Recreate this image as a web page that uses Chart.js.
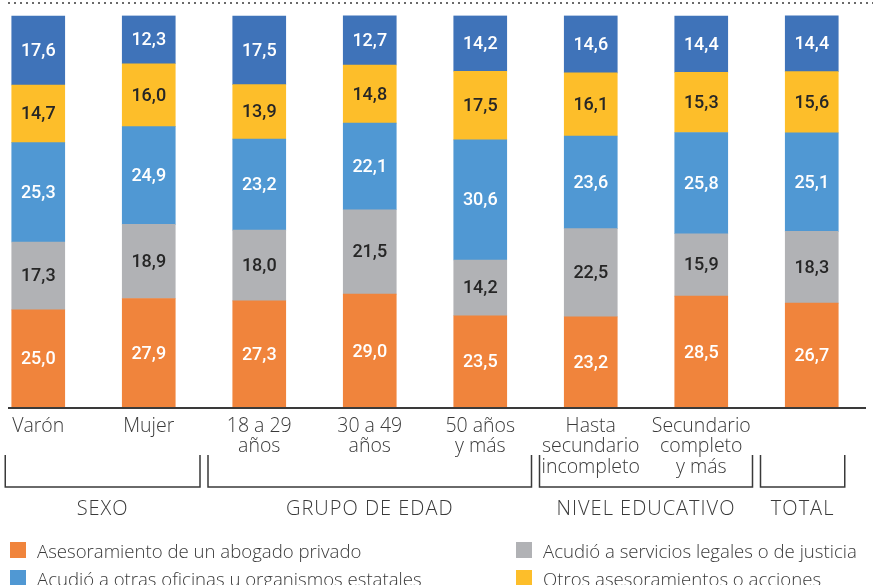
<!DOCTYPE html>
<html lang="es">
<head>
<meta charset="utf-8">
<script src="https://cdn.jsdelivr.net/npm/chart.js@4.4.0/dist/chart.umd.min.js"></script>
<style>
    html, body { margin: 0; padding: 0; background: #fff; overflow: hidden; }
    .wrap { position: relative; width: 873px; height: 585px; overflow: hidden; }
    /* canvas is a bit wider than the page and shifted left so the first bar sits near the edge */
    #accionesChart { position: absolute; left: -17px; top: 0; }
    .legend {
        position: absolute; left: 10px; top: 542px;
        display: grid; grid-template-columns: 506px auto; row-gap: 12px;
        font-family: "Open Sans", sans-serif; font-weight: 300; font-size: 18.6px; color: #3a3a3a;
    }
    .legend-item { display: flex; align-items: center; height: 16px; white-space: nowrap; }
    .legend-box { width: 16px; height: 16px; margin-right: 11px; flex: none; }
</style>
</head>
<body>
<div class="wrap">
    <canvas id="accionesChart" width="890" height="585"></canvas>
    <div class="legend" id="legend"></div>
</div>
<script>
// Categories (tick labels, multi-line)
const categories = [
    ['Varón'], ['Mujer'], ['18 a 29', 'años'], ['30 a 49', 'años'], ['50 años', 'y más'],
    ['Hasta', 'secundario', 'incompleto'], ['Secundario', 'completo', 'y más'], ['']
];

// Groups below the axis
const groupLabels = ['SEXO', 'GRUPO DE EDAD', 'NIVEL EDUCATIVO', 'TOTAL'];
const groupSizes = [2, 3, 2, 1];

// Series values (%)
const abogadoPrivado = [25.0, 27.9, 27.3, 29.0, 23.5, 23.2, 28.5, 26.7];
const serviciosLegales = [17.3, 18.9, 18.0, 21.5, 14.2, 22.5, 15.9, 18.3];
const otrasOficinas = [25.3, 24.9, 23.2, 22.1, 30.6, 23.6, 25.8, 25.1];
const otrosAsesoramientos = [14.7, 16.0, 13.9, 14.8, 17.5, 16.1, 15.3, 15.6];
const restoSuperior = [17.6, 12.3, 17.5, 12.7, 14.2, 14.6, 14.4, 14.4];

const TEXT_DARK = '#262626';
const SHIFT = 17; // canvas offset against the page

/**
 * Value labels inside each segment
 */
const segmentLabels = {
    id: 'segmentLabels',
    afterDatasetsDraw(chart) {
        const ctx = chart.ctx;
        ctx.save();
        ctx.font = '500 18px Roboto, sans-serif';
        ctx.textAlign = 'center';
        ctx.textBaseline = 'middle';
        chart.data.datasets.forEach((ds, i) => {
            const meta = chart.getDatasetMeta(i);
            meta.data.forEach((bar, j) => {
                const v = ds.data[j];
                ctx.fillStyle = ds.labelColor;
                ctx.fillText(v.toFixed(1).replace('.', ','), bar.x, (bar.y + bar.base) / 2 + 1);
            });
        });
        ctx.restore();
    }
};

/**
 * Axis line, top dotted rule, group brackets and titles
 */
const decorations = {
    id: 'decorations',
    afterDraw(chart) {
        const ctx = chart.ctx;
        const x = chart.scales.x;
        const area = chart.chartArea;
        ctx.save();

        // dotted rule on top
        ctx.strokeStyle = '#6a6a6a';
        ctx.lineWidth = 2;
        ctx.setLineDash([2, 4]);
        ctx.beginPath();
        ctx.moveTo(8 + SHIFT, 3);
        ctx.lineTo(873 + SHIFT, 3);
        ctx.stroke();
        ctx.setLineDash([]);

        // base axis line
        ctx.strokeStyle = '#3a3a3a';
        ctx.lineWidth = 2;
        ctx.beginPath();
        ctx.moveTo(8 + SHIFT, area.bottom);
        ctx.lineTo(866 + SHIFT, area.bottom);
        ctx.stroke();

        // brackets
        const last = categories.length - 1;
        const top = 455, bottom = 487;
        let start = 0;
        ctx.lineWidth = 1.5;
        ctx.strokeStyle = '#3a3a3a';
        ctx.fillStyle = '#3a3a3a';
        ctx.font = '300 20px "Open Sans", sans-serif';
        ctx.letterSpacing = '1px';
        ctx.textAlign = 'center';
        ctx.textBaseline = 'middle';
        groupSizes.forEach((size, g) => {
            const end = start + size - 1;
            const left = start === 0 ? x.getPixelForValue(0) - 33
                : (x.getPixelForValue(start - 1) + x.getPixelForValue(start)) / 2 + 4;
            const right = end === last ? x.getPixelForValue(last) + 33
                : (x.getPixelForValue(end) + x.getPixelForValue(end + 1)) / 2 - 4;
            ctx.beginPath();
            ctx.moveTo(left, top);
            ctx.lineTo(left, bottom);
            ctx.lineTo(right, bottom);
            ctx.lineTo(right, top);
            ctx.stroke();
            ctx.fillText(groupLabels[g], (left + right) / 2, 509);
            start = end + 1;
        });
        ctx.restore();
    }
};

const ctx = document.getElementById('accionesChart').getContext('2d');

const chart = new Chart(ctx, {
    type: 'bar',
    data: {
        labels: categories,
        datasets: [
            { label: 'Asesoramiento de un abogado privado', data: abogadoPrivado, backgroundColor: '#F0843C', labelColor: '#ffffff' },
            { label: 'Acudió a servicios legales o de justicia', data: serviciosLegales, backgroundColor: '#B1B2B5', labelColor: TEXT_DARK },
            { label: 'Acudió a otras oficinas u organismos estatales', data: otrasOficinas, backgroundColor: '#5098D3', labelColor: '#ffffff' },
            { label: 'Otros asesoramientos o acciones', data: otrosAsesoramientos, backgroundColor: '#FDBE2A', labelColor: TEXT_DARK },
            { label: '', data: restoSuperior, backgroundColor: '#3F73B9', labelColor: '#ffffff', hideInLegend: true }
        ]
    },
    options: {
        responsive: false,
        animation: false,
        events: [],
        barThickness: 53,
        layout: {
            padding: { top: 15.5, left: 0, right: 6, bottom: 0 }
        },
        plugins: {
            legend: { display: false },
            tooltip: { enabled: false }
        },
        scales: {
            x: {
                stacked: true,
                grid: { display: false, drawTicks: false },
                border: { display: false },
                afterFit(scale) { scale.height = 177; },
                ticks: {
                    color: '#3a3a3a',
                    padding: 8,
                    maxRotation: 0,
                    autoSkip: false,
                    font: { family: '"Open Sans", sans-serif', weight: '300', size: 19.5, lineHeight: 1.05 }
                }
            },
            y: {
                stacked: true,
                display: false,
                min: 0,
                max: 100
            }
        }
    },
    plugins: [segmentLabels, decorations]
});

// HTML legend built from the datasets
document.getElementById('legend').innerHTML = chart.data.datasets
    .filter(ds => !ds.hideInLegend)
    .map(ds => `<div class="legend-item"><span class="legend-box" style="background:${ds.backgroundColor}"></span>${ds.label}</div>`)
    .join('');
</script>
</body>
</html>
